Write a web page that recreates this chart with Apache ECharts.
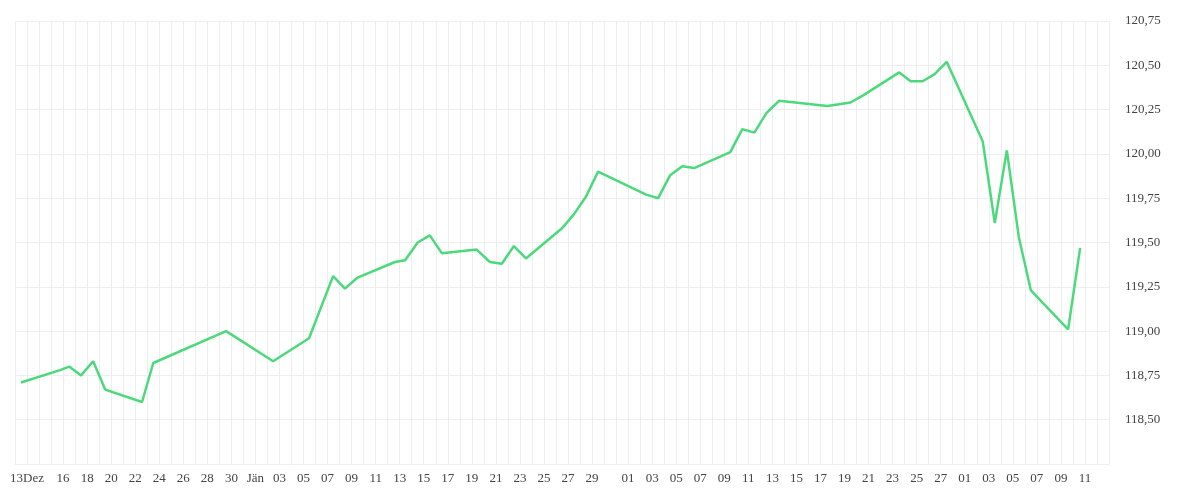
<!DOCTYPE html>
<html lang="de">
<head>
<meta charset="UTF-8">
<title>Kursverlauf</title>
<script src="https://cdn.jsdelivr.net/npm/echarts@6/dist/echarts.min.js"></script>
<style>
  html, body { margin: 0; padding: 0; background: #fff; }
  #chart { width: 1200px; height: 500px; }
</style>
</head>
<body>
<div id="chart"></div>
<script>
// x = Tage seit 13. Dez
const days = [-0.5, 2.75, 3.5, 4.5, 5.5, 6.5, 9.57, 10.5, 16.56, 20.47, 23.46, 25.46, 26.45, 27.45,
  30.6, 31.45, 32.5, 33.5, 34.5, 37.4, 38.5, 39.5, 40.5, 41.5, 44.5, 45.5, 46.5, 47.5, 51.5, 52.5,
  53.5, 54.5, 55.5, 58.5, 59.5, 60.5, 61.5, 62.56, 66.56, 67.55, 68.5, 69.55, 72.55, 73.5, 74.5,
  75.5, 76.5, 79.5, 80.5, 81.5, 82.5, 83.5, 86.6, 87.6];
const prices = [118.71, 118.78, 118.80, 118.75, 118.83, 118.67, 118.60, 118.82, 119.00, 118.83,
  118.96, 119.31, 119.24, 119.30, 119.39, 119.40, 119.50, 119.54, 119.44, 119.46, 119.39, 119.38,
  119.48, 119.41, 119.58, 119.66, 119.76, 119.90, 119.77, 119.75, 119.88, 119.93, 119.92, 120.01,
  120.14, 120.12, 120.23, 120.30, 120.27, 120.28, 120.29, 120.33, 120.46, 120.41, 120.41, 120.45,
  120.52, 120.07, 119.61, 120.02, 119.53, 119.23, 119.01, 119.47];

const tickDays = [0, 3, 5, 7, 9, 11, 13, 15, 17, 19, 21, 23, 25, 27, 29, 31, 33, 35, 37, 39, 41, 43,
  45, 47, 50, 52, 54, 56, 58, 60, 62, 64, 66, 68, 70, 72, 74, 76, 78, 80, 82, 84, 86, 88];
const tickLabels = ['13Dez', '16', '18', '20', '22', '24', '26', '28', '30', 'Jän', '03', '05', '07',
  '09', '11', '13', '15', '17', '19', '21', '23', '25', '27', '29', '01', '03', '05', '07', '09',
  '11', '13', '15', '17', '19', '21', '23', '25', '27', '01', '03', '05', '07', '09', '11'];

const chart = echarts.init(document.getElementById('chart'));
chart.setOption({
  animation: false,
  grid: { left: 15, right: 91, top: 21, bottom: 36 },
  xAxis: {
    type: 'value',
    min: -1,
    max: 90,
    interval: 1,
    axisLine: { show: false },
    axisTick: { show: false },
    splitLine: { lineStyle: { color: '#eeeeee' } },
    axisLabel: {
      fontFamily: 'Liberation Serif',
      fontSize: 13,
      color: '#444',
      showMinLabel: true,
      formatter: v => {
        const i = tickDays.indexOf(Math.round(v));
        return i >= 0 && Math.abs(v - Math.round(v)) < 1e-6 ? tickLabels[i] : '';
      }
    }
  },
  yAxis: {
    type: 'value',
    position: 'right',
    min: 118.25,
    max: 120.75,
    interval: 0.25,
    axisLine: { show: false },
    axisTick: { show: false },
    splitLine: { lineStyle: { color: '#eeeeee' } },
    axisLabel: {
      showMinLabel: false,
      margin: 16,
      fontFamily: 'Liberation Serif',
      fontSize: 13,
      color: '#444',
      formatter: v => v.toFixed(2).replace('.', ',')
    }
  },
  series: [{
    type: 'line',
    data: days.map((d, i) => [d, prices[i]]),
    showSymbol: false,
    lineStyle: { color: '#4cd97b', width: 2.5 }
  }]
});
</script>
</body>
</html>
